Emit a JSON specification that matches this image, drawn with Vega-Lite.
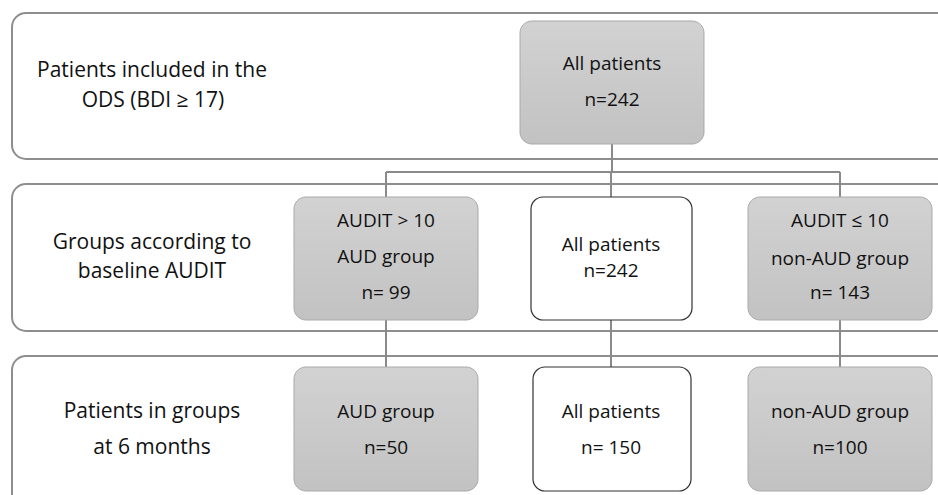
{
  "$schema": "https://vega.github.io/schema/vega-lite/v6.json",
  "width": 938,
  "height": 495,
  "padding": 0,
  "autosize": "none",
  "background": "white",
  "config": {"view": {"stroke": null}},
  "datasets": {
    "panels": [
      {"panel": "ODS", "x": 12, "x2": 970, "y": 13, "y2": 159},
      {"panel": "Baseline", "x": 12, "x2": 970, "y": 184, "y2": 331},
      {"panel": "6 months", "x": 12, "x2": 970, "y": 356, "y2": 520}
    ],
    "links": [
      {"x": 612, "x2": 612, "y": 144, "y2": 172},
      {"x": 386, "x2": 840, "y": 172, "y2": 172},
      {"x": 386, "x2": 386, "y": 172, "y2": 197},
      {"x": 611, "x2": 611, "y": 172, "y2": 197},
      {"x": 840, "x2": 840, "y": 172, "y2": 197},
      {"x": 386, "x2": 386, "y": 320, "y2": 367},
      {"x": 611, "x2": 611, "y": 320, "y2": 367},
      {"x": 840, "x2": 840, "y": 320, "y2": 367}
    ],
    "boxes": [
      {"box": "All patients (ODS)", "kind": "group", "x": 520, "x2": 704, "y": 21, "y2": 144},
      {"box": "AUD group (baseline)", "kind": "group", "x": 294, "x2": 478, "y": 197, "y2": 320},
      {"box": "All patients (baseline)", "kind": "all", "x": 531, "x2": 692, "y": 197, "y2": 320},
      {"box": "non-AUD group (baseline)", "kind": "group", "x": 748, "x2": 932, "y": 197, "y2": 320},
      {"box": "AUD group (6 months)", "kind": "group", "x": 294, "x2": 478, "y": 367, "y2": 491},
      {"box": "All patients (6 months)", "kind": "all", "x": 533, "x2": 691, "y": 367, "y2": 491},
      {"box": "non-AUD group (6 months)", "kind": "group", "x": 748, "x2": 932, "y": 367, "y2": 491}
    ],
    "texts": [
      {"role": "label", "text": "Patients included in the", "x": 152, "y": 71},
      {"role": "label", "text": "ODS (BDI ≥ 17)", "x": 153, "y": 101},
      {"role": "label", "text": "Groups according to", "x": 152, "y": 243},
      {"role": "label", "text": "baseline AUDIT", "x": 152, "y": 272},
      {"role": "label", "text": "Patients in groups", "x": 152, "y": 412},
      {"role": "label", "text": "at 6 months", "x": 152, "y": 448},
      {"role": "box", "text": "All patients", "x": 612, "y": 64},
      {"role": "box", "text": "n=242", "x": 612, "y": 100},
      {"role": "box", "text": "AUDIT > 10", "x": 386, "y": 221},
      {"role": "box", "text": "AUD group", "x": 386, "y": 257},
      {"role": "box", "text": "n= 99", "x": 386, "y": 293},
      {"role": "box", "text": "All patients", "x": 611, "y": 245},
      {"role": "box", "text": "n=242", "x": 611, "y": 271},
      {"role": "box", "text": "AUDIT ≤  10", "x": 840, "y": 221},
      {"role": "box", "text": "non-AUD group", "x": 840, "y": 259},
      {"role": "box", "text": "n= 143", "x": 840, "y": 293},
      {"role": "box", "text": "AUD group", "x": 386, "y": 412},
      {"role": "box", "text": "n=50", "x": 386, "y": 448},
      {"role": "box", "text": "All patients", "x": 611, "y": 412},
      {"role": "box", "text": "n= 150", "x": 611, "y": 448},
      {"role": "box", "text": "non-AUD group", "x": 840, "y": 412},
      {"role": "box", "text": "n=100", "x": 840, "y": 448}
    ]
  },
  "encoding": {
    "x": {"field": "x", "type": "quantitative", "scale": {"domain": [0, 938], "range": [0, 938], "nice": false, "zero": false}, "axis": null},
    "y": {"field": "y", "type": "quantitative", "scale": {"domain": [0, 495], "range": [0, 495], "nice": false, "zero": false}, "axis": null}
  },
  "layer": [
    {
      "data": {"name": "panels"},
      "mark": {"type": "rect", "fill": "white", "stroke": "#8e8e8e", "strokeWidth": 2, "cornerRadius": 14, "clip": true},
      "encoding": {"x2": {"field": "x2"}, "y2": {"field": "y2"}}
    },
    {
      "data": {"name": "links"},
      "mark": {"type": "rule", "stroke": "#8a8a8a", "strokeWidth": 2},
      "encoding": {"x2": {"field": "x2"}, "y2": {"field": "y2"}}
    },
    {
      "data": {"name": "boxes"},
      "transform": [{"filter": "datum.kind === 'group'"}],
      "mark": {
        "type": "rect",
        "cornerRadius": 12,
        "stroke": "#a9a9a9",
        "strokeWidth": 1,
        "fill": {"gradient": "linear", "x1": 0, "y1": 0, "x2": 0, "y2": 1, "stops": [{"offset": 0, "color": "#d2d2d2"}, {"offset": 1, "color": "#c2c2c2"}]}
      },
      "encoding": {"x2": {"field": "x2"}, "y2": {"field": "y2"}}
    },
    {
      "data": {"name": "boxes"},
      "transform": [{"filter": "datum.kind === 'all'"}],
      "mark": {"type": "rect", "cornerRadius": 12, "stroke": "#333333", "strokeWidth": 1.2, "fill": "white"},
      "encoding": {"x2": {"field": "x2"}, "y2": {"field": "y2"}}
    },
    {
      "data": {"name": "texts"},
      "transform": [{"filter": "datum.role === 'label'"}],
      "mark": {"type": "text", "font": "Open Sans", "fontSize": 21, "color": "#111111", "align": "center", "baseline": "middle"},
      "encoding": {"text": {"field": "text"}}
    },
    {
      "data": {"name": "texts"},
      "transform": [{"filter": "datum.role === 'box'"}],
      "mark": {"type": "text", "font": "Open Sans", "fontSize": 19, "color": "#111111", "align": "center", "baseline": "middle"},
      "encoding": {"text": {"field": "text"}}
    }
  ]
}
